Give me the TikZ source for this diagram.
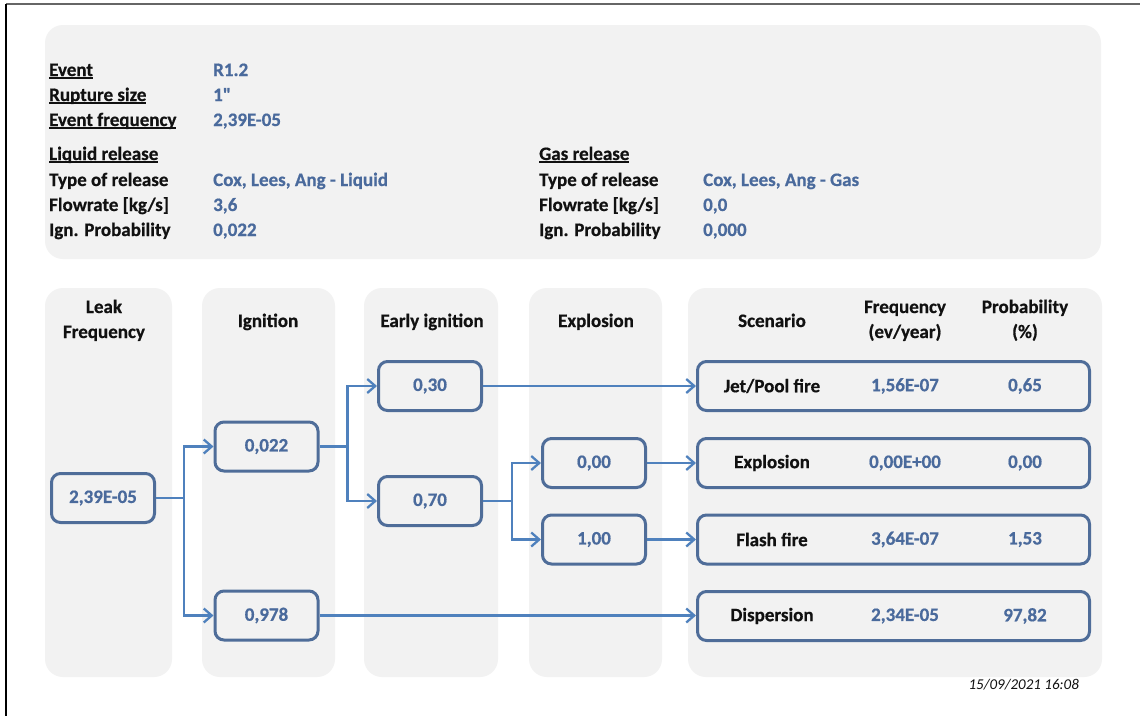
\documentclass[tikz,border=0pt]{standalone}
\usepackage{fontspec}
\setmainfont{Carlito}[BoldFeatures={FakeBold=0.6}]
\newfontfamily\rawfont{Carlito}[Ligatures=TeXOff,BoldFeatures={FakeBold=0.6}]
\usetikzlibrary{arrows.meta}
\definecolor{panel}{HTML}{F2F2F2}
\definecolor{boxline}{HTML}{4F6D99}
\definecolor{conn}{HTML}{4F81BD}
\definecolor{valtxt}{HTML}{4A6A9C}
\definecolor{lbl}{HTML}{111111}
\newcommand\ulbl[1]{\setbox0\hbox{#1}\rlap{\rule[-2.6pt]{\wd0}{1.3pt}}\box0}
\begin{document}
\begin{tikzpicture}[x=1pt,y=-1pt,
  bf/.style={font=\fontsize{19}{22}\selectfont\bfseries},
  lab/.style={bf,anchor=base west,text=lbl,inner sep=0pt},
  val/.style={bf,anchor=base west,text=valtxt,inner sep=0pt},
  hdr/.style={bf,anchor=base,text=lbl,inner sep=0pt},
  col/.style={fill=panel,rounded corners=18pt},
  pbox/.style={draw=boxline,line width=3pt,rounded corners=9pt,fill=panel,bf,text=valtxt,minimum width=103pt,minimum height=49pt,inner sep=0pt},
  sbox/.style={draw=boxline,line width=3pt,rounded corners=9pt,fill=panel,minimum width=392pt,minimum height=49pt,inner sep=0pt},
  sname/.style={bf,anchor=center,inner sep=0pt,text=lbl},
  sval/.style={bf,anchor=center,inner sep=0pt,text=valtxt},
  conn/.style={draw=conn,line width=2.5pt},
  arr/.style={conn,-{Straight Barb[length=8pt,width=14pt,line width=2.3pt]}}
]
\useasboundingbox (0,0) rectangle (1140,716);
\fill[white] (0,0) rectangle (1140,716);
% frame
\draw[line width=2pt,draw=black!60] (6,4) -- (1140,4);
\draw[line width=2pt,draw=black] (6,4) -- (6,716);

% top panel
\fill[col] (45,25) rectangle (1101,259);
\node[lab] (lEvent) at (49,76) {\ulbl{Event}};
\node[lab] (lRupt) at (49,101) {\ulbl{Rupture size}};
\node[lab] (lFreq) at (49,126) {\ulbl{Event frequency}};
\node[val] (vEvent) at (213,76) {R1.2};
\node[val] (vRupt) at (213,101) {\rawfont\bfseries 1"};
\node[val] (vFreq) at (213,126) {2,39E-05};

\node[lab] (lLiq) at (49,160) {\ulbl{Liquid release}};
\node[lab] (lLType) at (49,186) {Type of release};
\node[lab] (lLFlow) at (49,211) {Flowrate [kg/s]};
\node[lab] (lLIgn) at (49,236) {Ign. Probability};
\node[val] (vLType) at (213,186) {Cox, Lees, Ang - Liquid};
\node[val] (vLFlow) at (213,211) {3,6};
\node[val] (vLIgn) at (213,236) {0,022};

\node[lab] (lGas) at (539,160) {\ulbl{Gas release}};
\node[lab] (lGType) at (539,186) {Type of release};
\node[lab] (lGFlow) at (539,211) {Flowrate [kg/s]};
\node[lab] (lGIgn) at (539,236) {Ign. Probability};
\node[val] (vGType) at (703,186) {Cox, Lees, Ang - Gas};
\node[val] (vGFlow) at (703,211) {0,0};
\node[val] (vGIgn) at (703,236) {0,000};

% columns
\fill[col] (45,288) rectangle (172,677);
\fill[col] (202,288) rectangle (335,677);
\fill[col] (364,288) rectangle (498,677);
\fill[col] (529,288) rectangle (662,677);
\fill[col] (688,288) rectangle (1102,677);

\node[hdr] (h1a) at (104,313) {Leak};
\node[hdr] (h1b) at (104,338) {Frequency};
\node[hdr] (h2) at (268,327) {Ignition};
\node[hdr] (h3) at (432,327) {Early ignition};
\node[hdr] (h4) at (596,327) {Explosion};
\node[hdr] (h5) at (772,327) {Scenario};
\node[hdr] (h6a) at (905,313) {Frequency};
\node[hdr] (h6b) at (905,338) {(ev/year)};
\node[hdr] (h7a) at (1025,313) {Probability};
\node[hdr] (h7b) at (1025,338) {(\%)};

% probability boxes
\node[pbox] (leak) at (103,498) {2,39E-05};
\node[pbox] (ign) at (266.5,446.5) {0,022};
\node[pbox] (noign) at (266.5,615.5) {0,978};
\node[pbox] (early) at (430,386) {0,30};
\node[pbox] (late) at (430,501) {0,70};
\node[pbox] (expl) at (594,463) {0,00};
\node[pbox] (noexpl) at (594,539.5) {1,00};

% scenario boxes
\node[sbox] (sJet) at (893.5,386) {};
\node[sbox] (sExp) at (893.5,463) {};
\node[sbox] (sFlash) at (893.5,539.5) {};
\node[sbox] (sDisp) at (893.5,616) {};
\node[sname] (sJetN) at (772,386) {Jet/Pool fire};
\node[sval] (sJetF) at (905,386) {1,56E-07};
\node[sval] (sJetP) at (1025,386) {0,65};
\node[sname] (sExpN) at (772,463) {Explosion};
\node[sval] (sExpF) at (905,463) {0,00E+00};
\node[sval] (sExpP) at (1025,463) {0,00};
\node[sname] (sFlashN) at (772,539.5) {Flash fire};
\node[sval] (sFlashF) at (905,539.5) {3,64E-07};
\node[sval] (sFlashP) at (1025,539.5) {1,53};
\node[sname] (sDispN) at (772,616) {Dispersion};
\node[sval] (sDispF) at (905,616) {2,34E-05};
\node[sval] (sDispP) at (1025,616) {97,82};

% connectors
\draw[conn] (leak.east) -- ++(28,0) coordinate (b1);
\draw[arr] (b1) |- (ign.west);
\draw[arr] (b1) |- (noign.west);
\draw[conn] (ign.east) -- ++(28,0) coordinate (b2);
\draw[arr] (b2) |- (early.west);
\draw[arr] (b2) |- (late.west);
\draw[conn] (late.east) -- ++(29,0) coordinate (b3);
\draw[arr] (b3) |- (expl.west);
\draw[arr] (b3) |- (noexpl.west);
\draw[arr] (early.east) -- (early.east -| sJet.west);
\draw[arr] (expl.east) -- (expl.east -| sExp.west);
\draw[arr] (noexpl.east) -- (noexpl.east -| sFlash.west);
\draw[arr] (noign.east) -- (noign.east -| sDisp.west);

% date
\node[anchor=base east,inner sep=0pt,text=lbl,font=\fontsize{15}{17}\selectfont\itshape] (date) at (1079,689) {15/09/2021 16:08};
\end{tikzpicture}
\end{document}
